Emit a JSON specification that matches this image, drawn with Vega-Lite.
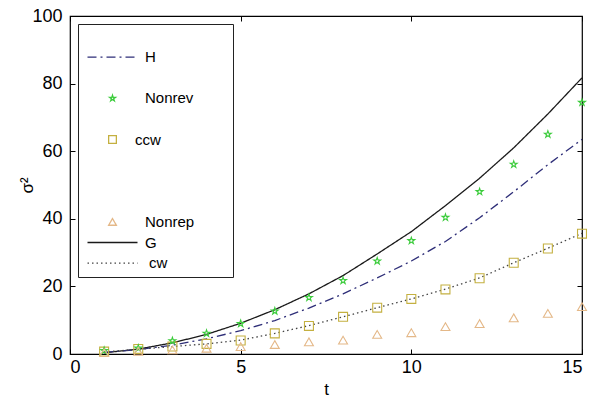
{
  "$schema": "https://vega.github.io/schema/vega-lite/v6.json",
  "width": 512,
  "height": 338,
  "autosize": "none",
  "padding": {"left": 70, "top": 16, "right": 9, "bottom": 45},
  "background": "white",
  "config": {
    "font": "Liberation Sans",
    "view": {"stroke": "black", "strokeWidth": 1.2},
    "axis": {"domain": false, "grid": false, "tickColor": "black", "tickSize": -5, "labelFontSize": 18, "labelColor": "black", "labelFont": "Liberation Sans", "titleFont": "Liberation Sans", "titleColor": "black"}
  },
  "data": {"values": [
    {"t":1,"v":0.36,"s":"G"},{"t":2,"v":1.45,"s":"G"},{"t":3,"v":3.3,"s":"G"},{"t":4,"v":5.8,"s":"G"},{"t":5,"v":9.1,"s":"G"},{"t":6,"v":13.1,"s":"G"},{"t":7,"v":17.8,"s":"G"},{"t":8,"v":23.2,"s":"G"},{"t":9,"v":29.6,"s":"G"},{"t":10,"v":36.2,"s":"G"},{"t":11,"v":43.9,"s":"G"},{"t":12,"v":52.0,"s":"G"},{"t":13,"v":61.0,"s":"G"},{"t":14,"v":71.0,"s":"G"},{"t":15,"v":81.7,"s":"G"},
    {"t":1,"v":0.5,"s":"H"},{"t":2,"v":1.3,"s":"H"},{"t":3,"v":2.6,"s":"H"},{"t":4,"v":4.5,"s":"H"},{"t":5,"v":6.9,"s":"H"},{"t":6,"v":9.9,"s":"H"},{"t":7,"v":13.6,"s":"H"},{"t":8,"v":17.8,"s":"H"},{"t":9,"v":22.5,"s":"H"},{"t":10,"v":27.5,"s":"H"},{"t":11,"v":33.3,"s":"H"},{"t":12,"v":40.3,"s":"H"},{"t":13,"v":48.0,"s":"H"},{"t":14,"v":56.0,"s":"H"},{"t":15,"v":63.5,"s":"H"},
    {"t":1,"v":0.6,"s":"cw"},{"t":2,"v":1.4,"s":"cw"},{"t":3,"v":2.2,"s":"cw"},{"t":4,"v":3.0,"s":"cw"},{"t":5,"v":4.1,"s":"cw"},{"t":6,"v":6.1,"s":"cw"},{"t":7,"v":8.4,"s":"cw"},{"t":8,"v":11.0,"s":"cw"},{"t":9,"v":13.7,"s":"cw"},{"t":10,"v":16.3,"s":"cw"},{"t":11,"v":19.2,"s":"cw"},{"t":12,"v":22.5,"s":"cw"},{"t":13,"v":27.0,"s":"cw"},{"t":14,"v":31.3,"s":"cw"},{"t":15,"v":35.7,"s":"cw"},
    {"t":1,"v":0.7,"s":"ccw"},{"t":2,"v":1.5,"s":"ccw"},{"t":3,"v":2.2,"s":"ccw"},{"t":4,"v":3.0,"s":"ccw"},{"t":5,"v":4.0,"s":"ccw"},{"t":6,"v":6.1,"s":"ccw"},{"t":7,"v":8.3,"s":"ccw"},{"t":8,"v":11.0,"s":"ccw"},{"t":9,"v":13.7,"s":"ccw"},{"t":10,"v":16.3,"s":"ccw"},{"t":11,"v":19.1,"s":"ccw"},{"t":12,"v":22.4,"s":"ccw"},{"t":13,"v":27.0,"s":"ccw"},{"t":14,"v":31.2,"s":"ccw"},{"t":15,"v":35.6,"s":"ccw"},
    {"t":1,"v":1.0,"s":"Nonrev"},{"t":2,"v":1.7,"s":"Nonrev"},{"t":3,"v":3.9,"s":"Nonrev"},{"t":4,"v":6.1,"s":"Nonrev"},{"t":5,"v":9.0,"s":"Nonrev"},{"t":6,"v":12.7,"s":"Nonrev"},{"t":7,"v":16.7,"s":"Nonrev"},{"t":8,"v":21.7,"s":"Nonrev"},{"t":9,"v":27.5,"s":"Nonrev"},{"t":10,"v":33.5,"s":"Nonrev"},{"t":11,"v":40.4,"s":"Nonrev"},{"t":12,"v":48.0,"s":"Nonrev"},{"t":13,"v":56.1,"s":"Nonrev"},{"t":14,"v":65.0,"s":"Nonrev"},{"t":15,"v":74.4,"s":"Nonrev"},
    {"t":1,"v":0.4,"s":"Nonrep"},{"t":2,"v":0.8,"s":"Nonrep"},{"t":3,"v":1.2,"s":"Nonrep"},{"t":4,"v":1.7,"s":"Nonrep"},{"t":5,"v":2.2,"s":"Nonrep"},{"t":6,"v":2.8,"s":"Nonrep"},{"t":7,"v":3.6,"s":"Nonrep"},{"t":8,"v":4.1,"s":"Nonrep"},{"t":9,"v":5.8,"s":"Nonrep"},{"t":10,"v":6.3,"s":"Nonrep"},{"t":11,"v":8.1,"s":"Nonrep"},{"t":12,"v":9.0,"s":"Nonrep"},{"t":13,"v":10.7,"s":"Nonrep"},{"t":14,"v":12.0,"s":"Nonrep"},{"t":15,"v":14.0,"s":"Nonrep"}
  ]},
  "layer": [
    {
      "transform": [{"filter": "datum.s == 'H' || datum.s == 'G' || datum.s == 'cw'"}],
      "mark": {"type": "line", "strokeWidth": 1.3},
      "encoding": {
        "x": {"field": "t", "type": "quantitative", "scale": {"domain": [0, 15], "nice": false}, "axis": {"orient": "bottom", "values": [0, 5, 10, 15], "title": "t", "titleFontSize": 17, "titleFontWeight": "normal", "labelPadding": 9, "titlePadding": 5}},
        "y": {"field": "v", "type": "quantitative", "scale": {"domain": [0, 100], "nice": false}, "axis": {"orient": "left", "values": [0, 20, 40, 60, 80, 100], "title": "σ²", "titleFontSize": 17, "titleFontWeight": "normal", "labelPadding": 13, "titlePadding": -5}},
        "color": {"field": "s", "type": "nominal", "scale": {"domain": ["b0", "H", "b1", "Nonrev", "b2", "ccw", "b3", "b4", "b5", "Nonrep", "G", "cw"], "range": ["transparent", "#2e2e78", "transparent", "#3ccc3c", "transparent", "#c4b040", "transparent", "transparent", "transparent", "#e4b888", "#1a1a1a", "#444444"]},
          "legend": {"title": null, "orient": "top-left", "offset": 8, "strokeColor": "#222222", "fillColor": "white", "padding": 5, "clipHeight": 15, "rowPadding": 4.6, "labelFontSize": 15, "labelFont": "Liberation Sans", "labelColor": "black", "labelOffset": 25, "symbolOffset": 22, "symbolStrokeWidth": 1.3,
            "labelExpr": "datum.label == 'b0' ? 'mmmmmmx' : (length(datum.label) == 2 && datum.label[0] == 'b' ? '' : datum.label)",
            "encode": {
              "symbols": {"update": {"size": {"signal": "indexof(['H','G','cw'], datum.value) >= 0 ? 2500 : 60"}}},
              "labels": {"update": {"opacity": {"signal": "datum.value == 'b0' ? 0 : 1"}, "dx": {"signal": "datum.value == 'ccw' ? -10 : (datum.value == 'cw' ? 4 : 0)"}}}
            }}},
        "strokeDash": {"field": "s", "type": "nominal", "scale": {"domain": ["b0", "H", "b1", "Nonrev", "b2", "ccw", "b3", "b4", "b5", "Nonrep", "G", "cw"], "range": [[1,0], [9,4,2,4], [1,0], [1,0], [1,0], [1,0], [1,0], [1,0], [1,0], [1,0], [1,0], [1.5,3]]}}
      }
    },
    {
      "transform": [{"filter": "datum.s == 'Nonrev' || datum.s == 'ccw' || datum.s == 'Nonrep'"}],
      "mark": {"type": "point", "filled": false, "strokeWidth": 1.1, "opacity": 1, "size": 80},
      "encoding": {
        "x": {"field": "t", "type": "quantitative", "axis": {"orient": "top", "values": [0, 5, 10, 15], "labels": false, "title": null}},
        "y": {"field": "v", "type": "quantitative", "axis": {"orient": "right", "values": [0, 20, 40, 60, 80, 100], "labels": false, "title": null}},
        "color": {"field": "s", "type": "nominal"},
        "shape": {"field": "s", "type": "nominal", "scale": {"domain": ["b0", "H", "b1", "Nonrev", "b2", "ccw", "b3", "b4", "b5", "Nonrep", "G", "cw"], "range": ["circle", "stroke", "circle", "M0,-0.8L0.18,-0.247L0.761,-0.247L0.29,0.094L0.47,0.647L0,0.306L-0.47,0.647L-0.29,0.094L-0.761,-0.247L-0.18,-0.247Z", "circle", "square", "circle", "circle", "circle", "triangle-up", "stroke", "stroke"]}}
      }
    }
  ],
  "resolve": {"axis": {"x": "independent", "y": "independent"}}
}
